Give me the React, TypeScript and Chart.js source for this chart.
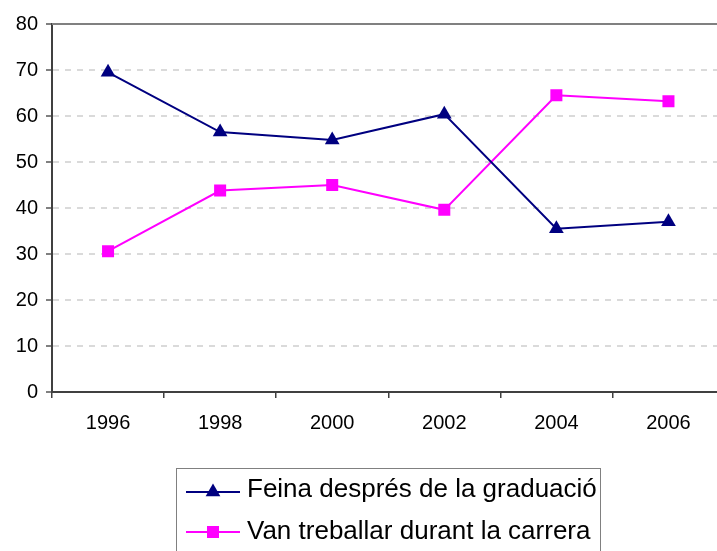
import React, { useEffect, useRef } from 'react';
import { Chart, registerables } from 'chart.js';

Chart.register(...registerables);

const years = ['1996', '1998', '2000', '2002', '2004', '2006'];
const feinaDespres = [69.5, 56.5, 54.8, 60.4, 35.5, 37.0];
const vanTreballar = [30.6, 43.8, 45.0, 39.6, 64.5, 63.2];
const seriesLabels = ['Feina després de la graduació', 'Van treballar durant la carrera'];
const seriesColors = ['#000080', '#ff00ff'];
const yTicks = { min: 0, max: 80, step: 10 };

const FONT = '"Liberation Sans", Arial, sans-serif';
const CANVAS_W = 733;

function drawMarker(ctx: CanvasRenderingContext2D, kind: string, x: number, y: number, r: number, color: string) {
  ctx.save();
  ctx.fillStyle = color;
  ctx.beginPath();
  if (kind === 'triangle') {
    let rad = 0;
    ctx.moveTo(x + Math.sin(rad) * r, y - Math.cos(rad) * r);
    rad += (2 * Math.PI) / 3;
    ctx.lineTo(x + Math.sin(rad) * r, y - Math.cos(rad) * r);
    rad += (2 * Math.PI) / 3;
    ctx.lineTo(x + Math.sin(rad) * r, y - Math.cos(rad) * r);
    ctx.closePath();
  } else {
    const s = Math.SQRT1_2 * r;
    ctx.rect(x - s, y - s, 2 * s, 2 * s);
  }
  ctx.fill();
  ctx.restore();
}

const framePlugin = {
  id: 'framePlugin',
  beforeDatasetsDraw(chart: any) {
    const { ctx, chartArea } = chart;
    ctx.save();
    ctx.strokeStyle = '#808080';
    ctx.lineWidth = 2;
    ctx.beginPath();
    ctx.moveTo(chartArea.left, chartArea.top);
    ctx.lineTo(chartArea.right, chartArea.top);
    ctx.stroke();
    ctx.restore();
  },
  afterDraw(chart: any) {
    const ctx: CanvasRenderingContext2D = chart.ctx;
    ctx.save();
    ctx.strokeStyle = '#808080';
    ctx.lineWidth = 1;
    ctx.strokeRect(176.5, 468.5, 424, 120);
    const rows = [
      { lineY: 492, baseY: 497, marker: 'triangle', r: 8.5 },
      { lineY: 532, baseY: 539, marker: 'rect', r: 8.5 },
    ];
    rows.forEach((row, i) => {
      ctx.strokeStyle = seriesColors[i];
      ctx.lineWidth = 2;
      ctx.beginPath();
      ctx.moveTo(186, row.lineY);
      ctx.lineTo(240, row.lineY);
      ctx.stroke();
      drawMarker(ctx, row.marker, 213, row.lineY, row.r, seriesColors[i]);
      ctx.fillStyle = '#000000';
      ctx.font = `26px ${FONT}`;
      ctx.textBaseline = 'alphabetic';
      ctx.textAlign = 'left';
      ctx.fillText(seriesLabels[i], 247, row.baseY);
    });
    ctx.restore();
  },
};

export default function App() {
  const canvasRef = useRef<HTMLCanvasElement | null>(null);

  useEffect(() => {
    if (!canvasRef.current) return;
    const chart = new Chart(canvasRef.current, {
      type: 'line',
      data: {
        labels: years,
        datasets: [
          {
            label: seriesLabels[0],
            data: feinaDespres,
            borderColor: seriesColors[0],
            backgroundColor: seriesColors[0],
            borderWidth: 2,
            pointStyle: 'triangle',
            pointRadius: 8.5,
            pointBorderWidth: 0,
            tension: 0,
          },
          {
            label: seriesLabels[1],
            data: vanTreballar,
            borderColor: seriesColors[1],
            backgroundColor: seriesColors[1],
            borderWidth: 2,
            pointStyle: 'rect',
            pointRadius: 8.5,
            pointBorderWidth: 0,
            tension: 0,
          },
        ],
      },
      options: {
        responsive: false,
        animation: false,
        devicePixelRatio: 1,
        layout: { padding: { left: 0, right: 0, top: 24, bottom: 109 } },
        plugins: {
          legend: { display: false },
          tooltip: { enabled: false },
        },
        scales: {
          x: {
            type: 'category',
            offset: true,
            afterFit: (scale: any) => {
              scale.height = 50;
            },
            grid: {
              offset: true,
              drawOnChartArea: false,
              drawTicks: true,
              tickLength: 6,
              tickColor: '#404040',
              lineWidth: 1.5,
            },
            border: { display: true, color: '#404040', width: 2 },
            ticks: {
              color: '#000000',
              font: { family: FONT, size: 20 },
              padding: 13,
              maxRotation: 0,
              autoSkip: false,
            },
          },
          y: {
            min: yTicks.min,
            max: yTicks.max,
            afterFit: (scale: any) => {
              scale.width = 52;
            },
            grid: {
              drawOnChartArea: true,
              drawTicks: true,
              tickLength: 6,
              tickColor: '#808080',
              tickBorderDash: [],
              lineWidth: 2,
              color: (ctx: any) => {
                const v = ctx.tick ? ctx.tick.value : null;
                if (v === yTicks.min || v === yTicks.max) return 'rgba(0,0,0,0)';
                return '#dadada';
              },
            },
            border: { display: true, color: '#404040', width: 2, dash: [6, 6] },
            ticks: {
              stepSize: yTicks.step,
              color: '#000000',
              font: { family: FONT, size: 20 },
              padding: 8,
            },
          },
        },
      },
      plugins: [framePlugin],
    });
    return () => chart.destroy();
  }, []);

  return (
    <div
      style={{
        position: 'fixed',
        left: 0,
        top: 0,
        width: 717,
        height: 551,
        overflow: 'hidden',
        background: '#ffffff',
      }}
    >
      <canvas
        ref={canvasRef}
        width={CANVAS_W}
        height={551}
        style={{ width: CANVAS_W, height: 551, display: 'block' }}
      />
    </div>
  );
}
